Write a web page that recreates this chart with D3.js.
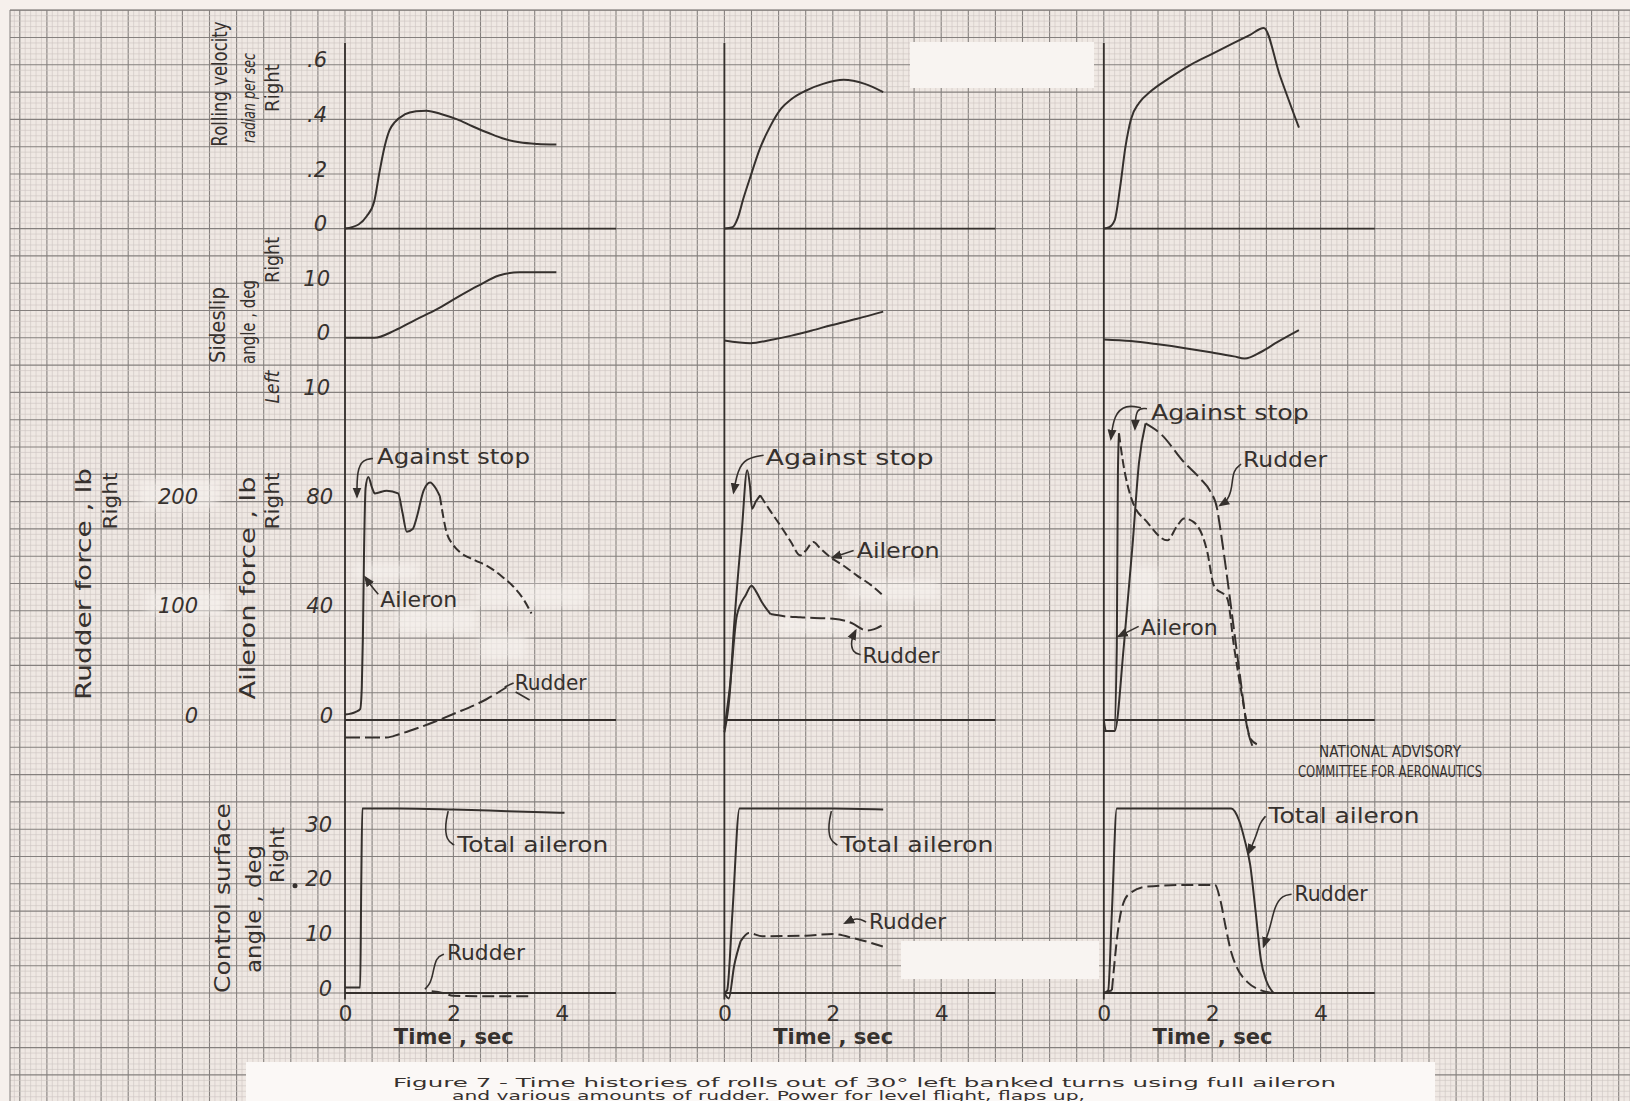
<!DOCTYPE html>
<html>
<head>
<meta charset="utf-8">
<script src="https://cdn.jsdelivr.net/npm/d3@7"></script>
<style>
html, body { margin: 0; padding: 0; background: #f6f0ec; }
svg { display: block; }
text { font-family: "DejaVu Sans", sans-serif; fill: #36312e; }
</style>
</head>
<body>
<svg id="chart" width="1630" height="1101"></svg>
<script>
// ---- data ----
var timeTicks = [0, 2, 4];
var rollTicks = [0, 0.2, 0.4, 0.6];
var slipTicks = [-10, 0, 10];
var aileronForceTicks = [0, 40, 80];
var rudderForceTicks = [0, 100, 200];
var controlTicks = [0, 10, 20, 30];

// run 1 : [time sec, value]
var roll1 = [[0,0],[0.25,0.015],[0.4,0.045],[0.54,0.1],[0.63,0.2],[0.73,0.3],[0.82,0.36],[0.92,0.39],[1.1,0.418],[1.31,0.43],[1.5,0.432],[1.8,0.418],[2.07,0.4],[2.35,0.375],[2.65,0.35],[2.95,0.328],[3.22,0.316],[3.55,0.31],[3.9,0.308]];
var slip1 = [[0,0],[0.54,0],[0.92,1.35],[1.3,3.3],[1.69,5.2],[2.07,7.4],[2.45,9.5],[2.84,11.4],[3.22,12],[3.9,12]];
var aileronForce1 = [[0,2],[0.2,3],[0.28,4],[0.31,12],[0.33,30],[0.35,60],[0.38,85],[0.43,89],[0.5,85],[0.55,83],[0.77,84],[0.98,83],[1.06,76],[1.14,69],[1.25,70],[1.32,74],[1.45,84],[1.57,87],[1.67,85],[1.75,82],[1.87,69],[2.0,64],[2.12,61.5],[2.4,58.5],[2.61,56.6],[2.9,52.5],[3.1,49],[3.3,44],[3.44,39]];
var rudderForce1 = [[0,-16],[0.77,-16],[1.0,-13],[1.38,-6.7],[2.0,5.5],[2.61,19],[2.98,30]];
var totalAileron1 = [[0,1],[0.28,1],[0.3,20],[0.32,33.8],[1,33.8],[2,33.6],[3,33.3],[4.05,33]];
var rudderAngle1 = [[0,0.4],[1.6,0.3],[1.8,0],[2.0,-0.5],[2.5,-0.6],[3.47,-0.6]];

// run 2
var roll2 = [[0,0],[0.15,0.005],[0.25,0.04],[0.35,0.11],[0.48,0.19],[0.65,0.29],[0.86,0.38],[1.05,0.44],[1.24,0.475],[1.5,0.505],[1.82,0.53],[2.2,0.545],[2.59,0.53],[2.93,0.5]];
var slip2 = [[0,-0.5],[0.48,-1],[0.85,-0.4],[1.24,0.4],[1.6,1.3],[1.97,2.3],[2.45,3.5],[2.93,4.8]];
var aileronForce2 = [[0,-4.5],[0.1,10],[0.17,32],[0.32,69],[0.42,91.5],[0.47,86],[0.51,77.4],[0.58,80],[0.66,82.3],[0.85,76.5],[1.03,71.3],[1.22,65.5],[1.4,60.3],[1.5,62],[1.64,65.2],[1.77,62.8],[1.95,59.7],[2.2,56.5],[2.44,53],[2.7,49.5],[2.93,45.6]];
var rudderForce2 = [[0,-8],[0.1,30],[0.23,95.7],[0.4,115],[0.5,123],[0.58,118],[0.69,108],[0.85,97],[1.1,95],[1.4,94],[2.01,92.7],[2.38,88],[2.55,83],[2.63,82],[2.75,83],[2.9,86.5]];
var totalAileron2 = [[0,0],[0.05,0.5],[0.15,15],[0.28,33.8],[1,33.8],[2,33.8],[2.93,33.6]];
var rudderAngle2 = [[0,0],[0.08,-1],[0.18,5],[0.3,9.5],[0.45,11],[0.7,10.4],[1.5,10.5],[2.0,10.8],[2.4,10],[2.93,8.5]];

// run 3
var roll3 = [[0,0],[0.1,0.005],[0.2,0.03],[0.3,0.15],[0.4,0.3],[0.5,0.4],[0.65,0.46],[0.85,0.5],[1.2,0.55],[1.6,0.6],[2.0,0.64],[2.4,0.68],[2.7,0.71],[2.95,0.735],[3.25,0.56],[3.6,0.37]];
var slip3 = [[0,-0.3],[0.5,-0.6],[1.0,-1.2],[1.5,-1.9],[2.0,-2.7],[2.4,-3.4],[2.6,-3.8],[2.9,-2.6],[3.2,-0.8],[3.6,1.4]];
var aileronForce3 = [[0,0],[0.04,-4],[0.19,-4],[0.24,27],[0.26,90],[0.28,105],[0.35,95],[0.53,80],[0.8,72.5],[1.17,65.8],[1.36,71.3],[1.48,73.8],[1.66,72.5],[1.91,61.5],[2.03,49.3],[2.28,44.4],[2.4,27.3],[2.55,8.9],[2.71,-7],[2.89,-9.4]];
var rudderForce3 = [[0,-10],[0.2,-10],[0.37,68],[0.53,160],[0.65,236],[0.77,271.6],[1.05,262],[1.48,236],[1.78,221],[1.97,209],[2.09,193.6],[2.15,175],[2.28,129],[2.4,83.5],[2.52,37.6],[2.65,-8.3],[2.74,-23.6]];
var totalAileron3 = [[0,0],[0.08,0.5],[0.15,15],[0.24,33.8],[1,33.8],[2,33.8],[2.35,33.8],[2.5,31.5],[2.6,28],[2.7,23.5],[2.8,15],[2.9,6],[3.0,2.2],[3.13,0]];
var rudderAngle3 = [[0,0],[0.15,0.5],[0.3,14],[0.45,18],[0.8,19.5],[1.5,19.8],[2.05,19.8],[2.15,17],[2.25,12],[2.35,7.5],[2.45,4.8],[2.65,2],[2.85,0.7],[3.1,0]];

var captionLines = [
  'Figure 7 - Time histories of rolls out of 30\u00b0 left banked turns using full aileron',
  'and various amounts of rudder.  Power for level flight, flaps up,',
  'landing gear up, V = 145 mph, approximately 1g.'
];

// ---- layout ----
var W = 1630, H = 1101;
var ink = '#35302d';
var sqX = 27.1, sqY = 27.3;        // one large square of the paper
var gx0 = 345, gy0 = 993;          // paper line through panel 1 origin
var panelOrigins = [gx0, gx0 + 14 * sqX, gx0 + 28 * sqX];

var svg = d3.select('#chart');
var defs = svg.append('defs');
defs.append('filter').attr('id', 'soft').attr('x', '-30%').attr('y', '-30%').attr('width', '160%').attr('height', '160%')
  .append('feGaussianBlur').attr('stdDeviation', 5);

svg.append('rect').attr('width', W).attr('height', H).attr('fill', '#f6f0ec');
svg.append('rect').attr('x', 10).attr('y', 10).attr('width', W - 10).attr('height', H - 10).attr('fill', '#efe8e3');

// graph paper
var stepX = sqX / 5, stepY = sqY / 5;
var vLines = d3.range(Math.ceil((10 - gx0) / stepX), Math.floor((W - gx0) / stepX) + 1);
var hLines = d3.range(Math.ceil((gy0 - H) / stepY), Math.floor((gy0 - 10) / stepY) + 1);
var grid = svg.append('g');
grid.selectAll('line.v').data(vLines).enter().append('line')
    .attr('x1', function(k) { return gx0 + k * stepX; })
    .attr('x2', function(k) { return gx0 + k * stepX; })
    .attr('y1', 10).attr('y2', H)
    .attr('stroke', function(k) { return k % 5 === 0 ? '#85807e' : '#ccc5c1'; })
    .attr('stroke-width', function(k) { return k % 5 === 0 ? 1.1 : 0.6; });
grid.selectAll('line.h').data(hLines).enter().append('line')
    .attr('y1', function(k) { return gy0 - k * stepY; })
    .attr('y2', function(k) { return gy0 - k * stepY; })
    .attr('x1', 10).attr('x2', W)
    .attr('stroke', function(k) { return k % 5 === 0 ? '#85807e' : '#ccc5c1'; })
    .attr('stroke-width', function(k) { return k % 5 === 0 ? 1.1 : 0.6; });
grid.append('line').attr('x1', 10).attr('x2', 10).attr('y1', 10).attr('y2', H).attr('stroke', '#85807e');
grid.append('line').attr('x1', 10).attr('x2', W).attr('y1', 10).attr('y2', 10).attr('stroke', '#85807e');

// pasted-over patches and soft erasures on the original
var patches = svg.append('g').attr('fill', '#f8f4f1');
patches.append('rect').attr('x', 910).attr('y', 42).attr('width', 184).attr('height', 46);
patches.append('rect').attr('x', 901).attr('y', 941).attr('width', 198).attr('height', 38);
var erasures = [[140,480,78,28],[146,590,78,25],[353,563,67,17],[397,607,80,26],[477,583,110,24],[480,633,47,27],[847,580,93,20],[777,617,80,16],[1127,567,33,46]];
svg.append('g').attr('fill', '#f8f4f1').attr('opacity', 0.55).attr('filter', 'url(#soft)')
  .selectAll('rect').data(erasures).enter().append('rect')
  .attr('x', function(d) { return d[0]; }).attr('y', function(d) { return d[1]; })
  .attr('width', function(d) { return d[2]; }).attr('height', function(d) { return d[3]; });

// ---- scales ----
var xs = panelOrigins.map(function(o) {
  return d3.scaleLinear().domain([0, 5]).range([o, o + 10 * sqX]);
});
var yRoll = d3.scaleLinear().domain([0, 0.6]).range([gy0 - 28 * sqY, gy0 - 34 * sqY]);
var ySlip = d3.scaleLinear().domain([-10, 10]).range([gy0 - 22 * sqY, gy0 - 26 * sqY]);
var yAil = d3.scaleLinear().domain([0, 80]).range([gy0 - 10 * sqY, gy0 - 18 * sqY]);
var yRud = d3.scaleLinear().domain([0, 200]).range([gy0 - 10 * sqY, gy0 - 18 * sqY]);
var yCtl = d3.scaleLinear().domain([0, 30]).range([gy0, gy0 - 6 * sqY]);

// ---- axis frame lines ----
var frame = svg.append('g').attr('stroke', ink).attr('stroke-width', 1.8);
xs.forEach(function(x) {
  frame.append('line').attr('x1', x(0)).attr('x2', x(0)).attr('y1', yRoll(0.68)).attr('y2', yCtl(-1.2));
  [yRoll(0), yAil(0), yCtl(0)].forEach(function(yy) {
    frame.append('line').attr('x1', x(0)).attr('x2', x(5)).attr('y1', yy).attr('y2', yy);
  });
});

// ---- left tick labels via d3 axes ----
function leftAxis(scale, ticks, fmt, xpos) {
  var g = svg.append('g').attr('transform', 'translate(' + xpos + ',0)')
    .call(d3.axisLeft(scale).tickValues(ticks).tickSize(0).tickPadding(0).tickFormat(fmt));
  g.select('.domain').remove();
  g.selectAll('text').attr('font-size', 21).attr('font-style', 'italic')
    .attr('font-family', '"DejaVu Sans", sans-serif').attr('fill', ink).attr('dy', '0.1em');
  return g;
}
leftAxis(yRoll, rollTicks, function(d) { return d === 0 ? '0' : d3.format('.1f')(d).replace(/^0/, ''); }, 327);
leftAxis(ySlip, slipTicks, function(d) { return String(Math.abs(d)); }, 330);
leftAxis(yAil, aileronForceTicks, function(d) { return String(d); }, 333);
leftAxis(yRud, rudderForceTicks, function(d) { return String(d); }, 198);
leftAxis(yCtl, controlTicks, function(d) { return String(d); }, 332);
svg.append('circle').attr('cx', 295).attr('cy', yCtl(20) + 2).attr('r', 2.5).attr('fill', ink);

// time axes
xs.forEach(function(x) {
  var g = svg.append('g').attr('transform', 'translate(0,' + (gy0 + 8) + ')')
    .call(d3.axisBottom(x).tickValues(timeTicks).tickSize(0).tickPadding(4).tickFormat(d3.format('d')));
  g.select('.domain').remove();
  g.selectAll('text').attr('font-size', 22).attr('font-family', '"DejaVu Sans", sans-serif').attr('fill', ink);
  svg.append('text').attr('x', x(0.9)).attr('y', gy0 + 51)
    .attr('font-size', 22).attr('font-weight', 'bold')
    .attr('textLength', 120).attr('lengthAdjust', 'spacingAndGlyphs')
    .text('Time , sec');
});

// ---- rotated axis titles (squeezed to the hand-lettered length) ----
var titles = [
  ['Rolling velocity', 220, 84, 125, 22, 'normal'],
  ['radian per sec', 249, 98, 90, 17, 'italic'],
  ['Right', 272, 88, 48, 19, 'normal'],
  ['Sideslip', 218, 325, 76, 22, 'normal'],
  ['angle , deg', 248, 322, 84, 20, 'normal'],
  ['Right', 272, 260, 46, 19, 'normal'],
  ['Left', 272, 387, 33, 19, 'italic'],
  ['Rudder force , lb', 84, 584, 232, 22, 'normal'],
  ['Right', 110, 501, 57, 19, 'normal'],
  ['Aileron force , lb', 247, 588, 223, 22, 'normal'],
  ['Right', 272, 501, 57, 19, 'normal'],
  ['Control surface', 223, 898, 190, 22, 'normal'],
  ['angle , deg', 253, 909, 128, 22, 'normal'],
  ['Right', 277, 855, 56, 19, 'normal']
];
titles.forEach(function(t) {
  var el = svg.append('text')
    .attr('text-anchor', 'middle').attr('dominant-baseline', 'central')
    .attr('font-size', t[4]).attr('font-style', t[5])
    .text(t[0]);
  var len = el.node().getComputedTextLength();
  el.attr('transform', 'translate(' + t[1] + ',' + t[2] + ') rotate(-90) scale(' + (t[3] / len) + ',1)');
});

// ---- curves ----
function curve(x, y, pts, dash, solidUntil) {
  var line = d3.line().x(function(d) { return x(d[0]); }).y(function(d) { return y(d[1]); })
    .curve(d3.curveMonotoneX);
  var split = solidUntil === undefined ? -1 : solidUntil;
  var solid = pts.filter(function(d) { return d[0] <= split; });
  var rest = pts.filter(function(d) { return d[0] >= split; });
  if (solid.length > 1) {
    svg.append('path').attr('d', line(solid)).attr('fill', 'none')
      .attr('stroke', ink).attr('stroke-width', 2).attr('stroke-linejoin', 'round');
  }
  if (rest.length > 1) {
    svg.append('path').attr('d', line(rest)).attr('fill', 'none')
      .attr('stroke', ink).attr('stroke-width', 2).attr('stroke-linejoin', 'round')
      .attr('stroke-dasharray', dash || null);
  }
}

var runs = [
  {roll: roll1, slip: slip1, af: aileronForce1, rf: rudderForce1, ta: totalAileron1, ra: rudderAngle1, afSolid: 1.75, rfSolid: -1},
  {roll: roll2, slip: slip2, af: aileronForce2, rf: rudderForce2, ta: totalAileron2, ra: rudderAngle2, afSolid: 0.66, rfSolid: 0.85},
  {roll: roll3, slip: slip3, af: aileronForce3, rf: rudderForce3, ta: totalAileron3, ra: rudderAngle3, afSolid: 0.28, rfSolid: 0.77}
];
runs.forEach(function(r, i) {
  var x = xs[i];
  curve(x, yRoll, r.roll);
  curve(x, ySlip, r.slip);
  curve(x, yAil, r.af, '9,4', r.afSolid);
  curve(x, yRud, r.rf, '15,5', r.rfSolid);
  curve(x, yCtl, r.ta);
  curve(x, yCtl, r.ra, '12,5', i === 1 ? 0.3 : 0.15);
});

// ---- annotations ----
defs.append('marker').attr('id', 'arr')
  .attr('viewBox', '0 0 10 10').attr('refX', 8).attr('refY', 5)
  .attr('markerWidth', 7).attr('markerHeight', 7).attr('orient', 'auto-start-reverse')
  .append('path').attr('d', 'M0,1 L10,5 L0,9 Z').attr('fill', ink);

// [panel, y scale, t, value, text, width, leaders (pixel offsets from the text start), arrow]
var notes = [
  [0, yAil, 0.59, 93.6, 'Against stop', 153, [[[-4,-6],[-14,-5],[-20,6],[-20,32]]], true],
  [0, yAil, 0.65, 41.3, 'Aileron', 77, [[[-2,-13],[-8,-20],[-15,-30]]], true],
  [0, yRud, 3.13, 27.5, 'Rudder', 72, [[[-1,-7],[-10,-3]], [[1,2],[15,10]]], false],
  [0, yCtl, 2.07, 25.8, 'Total aileron', 151, [[[-3,-7],[-11,-12],[-12,-28],[-9,-41]]], false],
  [0, yCtl, 1.88, 6, 'Rudder', 78, [[[-3,-6],[-11,-3],[-14,14],[-17,24],[-22,29]]], false],
  [1, yAil, 0.76, 93.3, 'Against stop', 168, [[[-2,-10],[-20,-7],[-28,5],[-32,27]]], true],
  [1, yAil, 2.44, 59.5, 'Aileron', 83, [[[-3,-7],[-24,0]]], true],
  [1, yAil, 2.55, 21, 'Rudder', 77, [[[-2,-8],[-10,-10],[-12,-22],[-7,-32]]], true],
  [1, yCtl, 2.14, 25.8, 'Total aileron', 153, [[[-3,-7],[-11,-12],[-12,-28],[-9,-41]]], false],
  [1, yCtl, 2.67, 11.7, 'Rudder', 77, [[[-3,-7],[-12,-12],[-24,-6]]], true],
  [2, yAil, 0.87, 110, 'Against stop', 158, [[[-4,-11],[-15,-12],[-16,9]], [[-10,-12],[-25,-15],[-37,-5],[-40,19]]], true],
  [2, yAil, 2.57, 92.6, 'Rudder', 84, [[[-2,-3],[-10,3],[-11,20],[-15,33],[-23,38]]], true],
  [2, yAil, 0.68, 31, 'Aileron', 77, [[[-2,-9],[-22,1]]], true],
  [2, yCtl, 3.04, 31.1, 'Total aileron', 151, [[[-3,-7],[-9,0],[-12,12],[-20,30]]], true],
  [2, yCtl, 3.52, 16.8, 'Rudder', 73, [[[-3,-7],[-12,-6],[-20,5],[-24,25],[-31,45]]], true]
];
var leaderLine = d3.line().curve(d3.curveBasis);
notes.forEach(function(n) {
  var ax = xs[n[0]](n[2]), ay = n[1](n[3]);
  svg.append('text').attr('x', ax).attr('y', ay).attr('font-size', 21)
    .attr('textLength', n[5]).attr('lengthAdjust', 'spacingAndGlyphs').text(n[4]);
  n[6].forEach(function(pts, j) {
    svg.append('path')
      .attr('d', leaderLine(pts.map(function(p) { return [ax + p[0], ay + p[1]]; })))
      .attr('fill', 'none').attr('stroke', ink).attr('stroke-width', 1.6)
      .attr('marker-end', n[7] && j === 0 || (n[7] && n[4] === 'Against stop') ? 'url(#arr)' : null);
  });
});

// NACA stamp
svg.append('text').attr('x', 1390).attr('y', 757).attr('text-anchor', 'middle')
  .attr('font-size', 15).attr('font-family', '"Liberation Sans Narrow", "Liberation Sans", sans-serif')
  .attr('textLength', 142).attr('lengthAdjust', 'spacingAndGlyphs').text('NATIONAL ADVISORY');
svg.append('text').attr('x', 1390).attr('y', 777).attr('text-anchor', 'middle')
  .attr('font-size', 15).attr('font-family', '"Liberation Sans Narrow", "Liberation Sans", sans-serif')
  .attr('textLength', 184).attr('lengthAdjust', 'spacingAndGlyphs').text('COMMITTEE FOR AERONAUTICS');

// caption
svg.append('rect').attr('x', 246).attr('y', 1062).attr('width', 1189).attr('height', 39).attr('fill', '#fbf8f6');
var capX = [393, 452, 452], capW = [943, 633, 700];
captionLines.forEach(function(line, i) {
  svg.append('text').attr('x', capX[i]).attr('y', 1087 + i * 12.5)
    .attr('font-family', '"Liberation Mono", monospace').attr('font-size', 13)
    .attr('textLength', capW[i]).attr('lengthAdjust', 'spacingAndGlyphs')
    .text(line);
});
</script>
</body>
</html>
